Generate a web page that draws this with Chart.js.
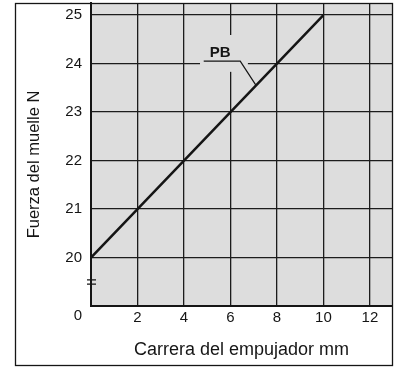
<!DOCTYPE html>
<html>
<head>
<meta charset="utf-8">
<script src="https://cdn.jsdelivr.net/npm/chart.js@4.4.0/dist/chart.umd.min.js"></script>
<style>
  html, body { margin: 0; padding: 0; background: #fff; }
  #wrap { position: relative; width: 397px; height: 368px; }
</style>
</head>
<body>
<div id="wrap"><canvas id="springChart"></canvas></div>
<script>
// spring force vs plunger stroke
const strokeMm = [0, 2, 4, 6, 8, 10];
const forceN = [20, 21, 22, 23, 24, 25];
const xTicks = [0, 2, 4, 6, 8, 10, 12];
const yTicks = [19, 20, 21, 22, 23, 24, 25];
const seriesName = 'PB';
const xTitle = 'Carrera del empujador mm';
const yTitle = 'Fuerza del muelle N';
const originLabel = '0';

const FONT = "'Liberation Sans', Arial, Helvetica, sans-serif";
const INK = '#151515';
const PLOT_BG = '#dddddd';

const decor = {
  id: 'decor',
  beforeDraw(chart) {
    const { ctx, chartArea: a } = chart;
    ctx.save();
    ctx.fillStyle = '#ffffff';
    ctx.fillRect(0, 0, chart.width, chart.height);
    ctx.fillStyle = PLOT_BG;
    ctx.fillRect(a.left, a.top, a.right - a.left, a.bottom - a.top);
    ctx.restore();
  },
  beforeDatasetsDraw(chart) {
    // series tag: clear the grid behind it, then leader line and text
    const { ctx, scales: { x, y } } = chart;
    ctx.save();
    ctx.fillStyle = PLOT_BG;
    const l = x.getPixelForValue(4.69), r = x.getPixelForValue(6.75);
    const t = y.getPixelForValue(24.59), b = y.getPixelForValue(23.83);
    ctx.fillRect(l, t, r - l, b - t);
    ctx.strokeStyle = INK;
    ctx.lineWidth = 1.2;
    ctx.beginPath();
    ctx.moveTo(x.getPixelForValue(4.85), y.getPixelForValue(24.05));
    ctx.lineTo(x.getPixelForValue(6.42), y.getPixelForValue(24.05));
    ctx.lineTo(x.getPixelForValue(7.1), y.getPixelForValue(23.55));
    ctx.stroke();
    ctx.fillStyle = INK;
    ctx.font = `bold 15px ${FONT}`;
    ctx.textBaseline = 'alphabetic';
    ctx.textAlign = 'left';
    ctx.fillText(chart.data.datasets[0].label, x.getPixelForValue(5.11), y.getPixelForValue(24.14));
    ctx.restore();
  },
  afterDraw(chart) {
    const { ctx, chartArea: a, scales: { x, y } } = chart;
    ctx.save();
    // outer frame
    ctx.strokeStyle = INK;
    ctx.lineWidth = 1.3;
    ctx.strokeRect(15.5, 3.5, 377, 362);

    // axis break on the y axis
    ctx.lineWidth = 1.3;
    ctx.beginPath();
    [19.54, 19.45].forEach(v => {
      const py = y.getPixelForValue(v);
      ctx.moveTo(a.left - 4, py);
      ctx.lineTo(a.left + 5, py);
    });
    ctx.stroke();

    // origin label
    ctx.fillStyle = INK;
    ctx.font = `15px ${FONT}`;
    ctx.textAlign = 'right';
    ctx.textBaseline = 'middle';
    ctx.fillText(originLabel, a.left - 9, a.bottom + 10);

    // y axis title
    ctx.font = `16.5px ${FONT}`;
    ctx.textAlign = 'center';
    ctx.translate(34.5, (a.top + a.bottom) / 2 + 10);
    ctx.rotate(-Math.PI / 2);
    ctx.fillText(yTitle, 0, 0);
    ctx.restore();
  }
};

new Chart(document.getElementById('springChart'), {
  type: 'line',
  data: {
    datasets: [{
      label: seriesName,
      data: strokeMm.map((v, i) => ({ x: v, y: forceN[i] })),
      borderColor: INK,
      borderWidth: 2.5,
      pointRadius: 0,
      tension: 0,
      fill: false,
    }]
  },
  options: {
    responsive: true,
    maintainAspectRatio: false,
    animation: false,
    layout: { padding: { top: 3, right: 5, left: 0, bottom: 0 } },
    plugins: {
      legend: { display: false },
      tooltip: { enabled: false }
    },
    scales: {
      x: {
        type: 'linear',
        min: 0,
        max: 12.95,
        afterBuildTicks: s => { s.ticks = xTicks.map(v => ({ value: v })); },
        afterFit: s => { s.height = 62; s.paddingLeft = 0; s.paddingRight = 0; },
        grid: { color: '#1c1c1c', lineWidth: 1.3, drawTicks: false },
        border: { color: INK, width: 2 },
        ticks: {
          padding: 3,
          color: INK,
          font: { family: FONT, size: 15 },
          maxRotation: 0,
          callback: v => (v === 0 ? '' : String(v))
        },
        title: {
          display: true,
          text: xTitle,
          color: INK,
          font: { family: FONT, size: 18 },
          padding: { top: 0, bottom: 7 }
        }
      },
      y: {
        type: 'linear',
        min: 19,
        max: 25.25,
        afterBuildTicks: s => { s.ticks = yTicks.map(v => ({ value: v })); },
        afterFit: s => { s.width = 91; s.paddingTop = 0; s.paddingBottom = 0; },
        grid: { color: '#1c1c1c', lineWidth: 1.3, drawTicks: false },
        border: { color: INK, width: 2 },
        ticks: {
          padding: 9,
          color: INK,
          font: { family: FONT, size: 15 },
          callback: v => (v === 19 ? '' : String(v))
        }
      }
    }
  },
  plugins: [decor]
});
</script>
</body>
</html>
